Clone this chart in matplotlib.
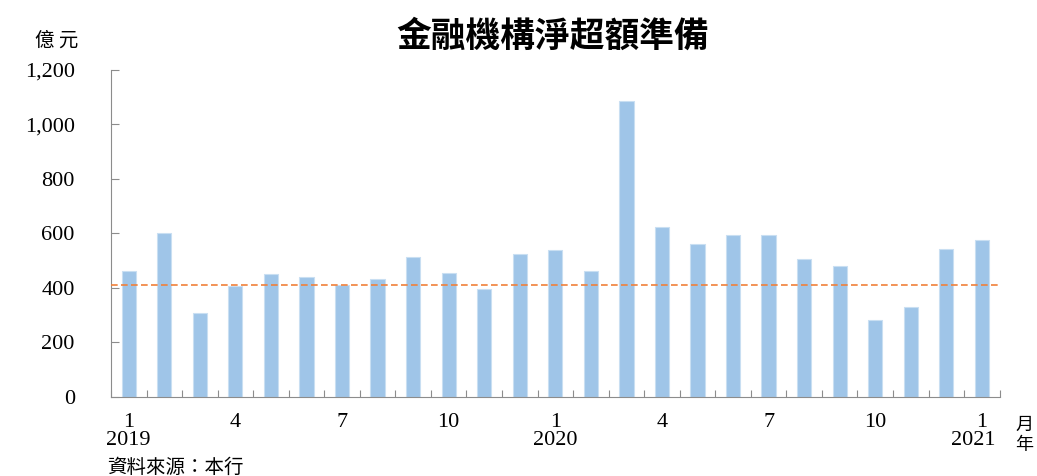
import matplotlib.pyplot as plt
from matplotlib.ticker import FuncFormatter, FixedLocator

# 金融機構淨超額準備, 2019/1 - 2021/1 (億元)
months = list(range(25))
month_labels = ['1', '4', '7', '10', '1', '4', '7', '10', '1']
year_labels = ['2019', '2020', '2021']
reserves = [462, 602, 308, 407, 451, 440, 411, 433, 514, 455, 396, 525,
            539, 462, 1086, 624, 561, 594, 594, 506, 481, 283, 330, 543, 576]
avg_line = 411

serif = ['Liberation Serif', 'DejaVu Serif']
cjk = ['Noto Sans CJK TC', 'DejaVu Sans']

fig = plt.figure(figsize=(10.37, 4.76), dpi=100)
ax = fig.add_axes([0.107, 0.166, 0.857, 0.687])

ax.bar(months, reserves, width=0.4, color='#9fc5e8', edgecolor='#c9dff2',
       linewidth=0.8, zorder=2)
ax.plot([-0.5, 24.5], [avg_line, avg_line], color='#f0803a', lw=1.2,
        dashes=(4, 2), zorder=3)

ax.set_xlim(-0.5, 24.5)
ax.set_ylim(0, 1200)
ax.set_yticks(range(0, 1201, 200))
ax.yaxis.set_major_formatter(FuncFormatter(lambda v, p: f'{int(v):,}'))

ax.xaxis.set_major_locator(FixedLocator([m - 0.5 for m in range(26)]))
ax.set_xticklabels([])
for i, lab in enumerate(month_labels):
    ax.text(i * 3, -60, lab, ha='center', va='top', fontsize=16,
            family=serif)
for i, lab in enumerate(year_labels):
    xpos = i * 12 - (0.25 if i == 2 else 0)
    ax.text(xpos, -125, lab, ha='center', va='top', fontsize=16,
            family=serif)

for s in ['top', 'right']:
    ax.spines[s].set_visible(False)
for s in ['left', 'bottom']:
    ax.spines[s].set_color('#8c8c8c')
ax.tick_params(axis='x', direction='in', length=5, color='#8c8c8c')
ax.tick_params(axis='y', direction='in', length=6, color='#8c8c8c',
               labelsize=16, pad=26)
for t in ax.get_yticklabels():
    t.set_family(serif)

fig.text(0.533, 0.925, '金融機構淨超額準備', ha='center', va='center',
         fontsize=25, fontweight='bold', family=cjk)
fig.text(0.055, 0.915, '億 元', ha='center', va='center', fontsize=14,
         family=cjk)
fig.text(0.988, 0.108, '月', ha='center', va='center', fontsize=13,
         family=cjk)
fig.text(0.988, 0.065, '年', ha='center', va='center', fontsize=13,
         family=cjk)
fig.text(0.103, 0.018, '資料來源：本行', ha='left', va='center', fontsize=14,
         family=cjk)

fig.savefig('out.png', dpi=100)
